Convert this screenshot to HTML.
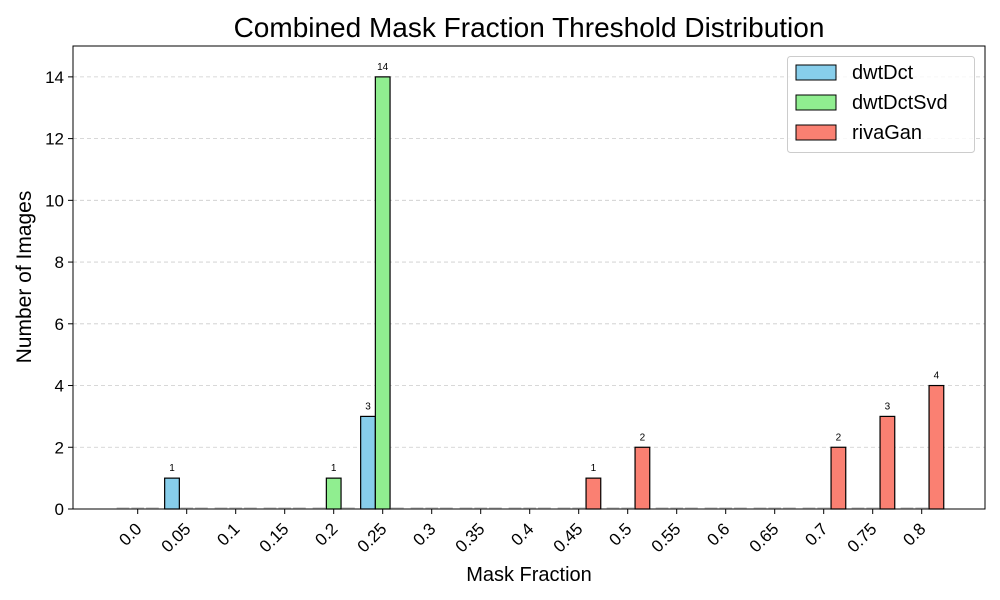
<!DOCTYPE html>
<html><head><meta charset="utf-8">
<style>
body{margin:0;background:#fff;}
svg{display:block;font-family:"Liberation Sans","DejaVu Sans",sans-serif;}
</style></head>
<body>
<svg id="chart" width="1000" height="600" viewBox="0 0 1000 600">
<rect x="0" y="0" width="1000" height="600" fill="#fff"/>
<text x="529" y="37" font-size="28" text-anchor="middle">Combined Mask Fraction Threshold Distribution</text>
<g id="grid"></g>
<g id="bars"></g>
<g id="axes"></g>
<text x="529" y="581" font-size="20" text-anchor="middle">Mask Fraction</text>
<text x="31" y="277" font-size="21" text-anchor="middle" transform="rotate(-90 31 277)">Number of Images</text>
<g id="legend">
<rect x="787.5" y="56.5" width="187" height="96" rx="3" fill="#fff" fill-opacity="0.8" stroke="#ccc"/>
</g>
</svg>
<script>
const categories=["0.0","0.05","0.1","0.15","0.2","0.25","0.3","0.35","0.4","0.45","0.5","0.55","0.6","0.65","0.7","0.75","0.8"];
const seriesNames=["dwtDct","dwtDctSvd","rivaGan"];
const dwtDct=[0,1,0,0,0,3,0,0,0,0,0,0,0,0,0,0,0];
const dwtDctSvd=[0,0,0,0,1,14,0,0,0,0,0,0,0,0,0,0,0];
const rivaGan=[0,0,0,0,0,0,0,0,0,1,2,0,0,0,2,3,4];
const yTicks=[0,2,4,6,8,10,12,14];
const colors=["#87ceeb","#90ee90","#fa8072"];
const NS="http://www.w3.org/2000/svg";
const L=73,R=985,T=46,B=509,yMax=15;
const step=49,x0=137.7,bw=0.3;
function xs(i){return x0+step*i;}
function ys(v){return B-(B-T)*v/yMax;}
function mk(tag,attrs,parent,text){const e=document.createElementNS(NS,tag);for(const k in attrs)e.setAttribute(k,attrs[k]);if(text!==undefined)e.textContent=text;parent.appendChild(e);return e;}
const grid=document.getElementById('grid'),bars=document.getElementById('bars'),axes=document.getElementById('axes'),legend=document.getElementById('legend');
yTicks.forEach(v=>{
  if(v>0){const g=mk('line',{x1:L,x2:R,y1:ys(v),y2:ys(v),stroke:'#ccc','stroke-dasharray':'4,3','stroke-width':0.8},grid);
  
  }
  const t=mk('line',{x1:L-5,x2:L,y1:ys(v),y2:ys(v),stroke:'#000'},axes);
  
  
  const lb=mk('text',{x:L-9,y:ys(v)+6,'font-size':17,'text-anchor':'end'},axes,String(v));
  
  
});
const series=[dwtDct,dwtDctSvd,rivaGan];
series.forEach((arr,s)=>{
  arr.forEach((v,i)=>{
    const left=xs(i)+(s-1.5)*bw*step, w=bw*step;
    if(v>0){
      const r=mk('rect',{x:left,y:ys(v),width:w,height:ys(0)-ys(v),fill:colors[s],stroke:'#000','stroke-width':1.2},bars);
      
      
      const t=mk('text',{x:left+w/2,y:ys(v)-7,'font-size':10,'text-anchor':'middle'},bars,String(v));
      
      
    } else {
      const r=mk('line',{x1:left+1,x2:left+w-1,y1:B-1,y2:B-1,stroke:'#ccc','stroke-width':1.5},bars);
      
      
    }
  });
});
categories.forEach((c,i)=>{
  const t=mk('line',{x1:xs(i),x2:xs(i),y1:B,y2:B+5,stroke:'#000'},axes);
  
  
  const lb=mk('text',{x:xs(i)+5,y:B+21,'font-size':17,'text-anchor':'end',transform:'rotate(-45 '+(xs(i)+5)+' '+(B+21)+')'},axes,c);
  
  
});
const fr=mk('rect',{x:L,y:T,width:R-L,height:B-T,fill:'none',stroke:'#000','stroke-width':1},axes);


seriesNames.forEach((n,s)=>{
  const y=65+s*30;
  const r=mk('rect',{x:796,y:y,width:40,height:15,fill:colors[s],stroke:'#000','stroke-width':1},legend);
  
  
  const t=mk('text',{x:852,y:y+14,'font-size':20},legend,n);
  
  
});
</script>
</body></html>
